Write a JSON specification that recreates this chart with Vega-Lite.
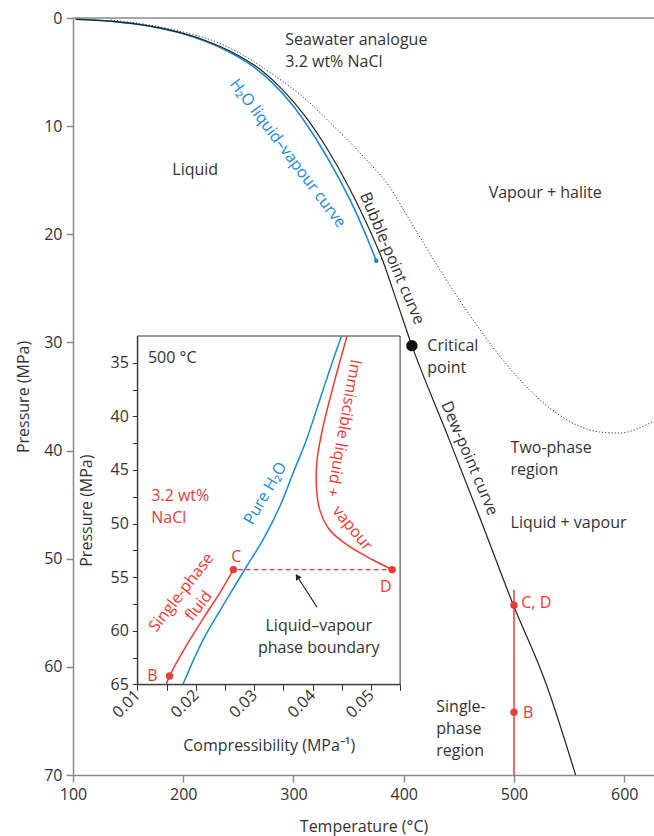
{
  "$schema": "https://vega.github.io/schema/vega-lite/v6.json",
  "width": 581,
  "height": 757,
  "autosize": {"type": "none"},
  "padding": {"left": 73, "top": 18, "right": 0, "bottom": 61},
  "background": "white",
  "config": {
    "view": {"stroke": null},
    "font": "Open Sans",
    "text": {"font": "Open Sans", "fontSize": 16, "color": "#333333"},
    "axis": {"labelFont": "Open Sans", "titleFont": "Open Sans", "labelColor": "#333333", "titleColor": "#333333", "titleFontWeight": "normal", "grid": false, "labelFontSize": 16, "titleFontSize": 16, "labelFlush": false, "labelOverlap": false}
  },
  "datasets": {
    "curves": [
      {"series": "water", "T": 102.4, "P": 0.12}, {"series": "water", "T": 120, "P": 0.19}, {"series": "water", "T": 140, "P": 0.36}, {"series": "water", "T": 160, "P": 0.6}, {"series": "water", "T": 180, "P": 0.96}, {"series": "water", "T": 200, "P": 1.45}, {"series": "water", "T": 220, "P": 2.15}, {"series": "water", "T": 240, "P": 3.05}, {"series": "water", "T": 260, "P": 4.25}, {"series": "water", "T": 280, "P": 5.9}, {"series": "water", "T": 300, "P": 8.15}, {"series": "water", "T": 320, "P": 11.1}, {"series": "water", "T": 340, "P": 14.6}, {"series": "water", "T": 355, "P": 17.6}, {"series": "water", "T": 365, "P": 19.9}, {"series": "water", "T": 375.1, "P": 22.45},
      {"series": "seawater", "T": 102.4, "P": 0.12}, {"series": "seawater", "T": 130, "P": 0.26}, {"series": "seawater", "T": 160, "P": 0.59}, {"series": "seawater", "T": 190, "P": 1.17}, {"series": "seawater", "T": 220, "P": 2.08}, {"series": "seawater", "T": 250, "P": 3.46}, {"series": "seawater", "T": 270, "P": 4.77}, {"series": "seawater", "T": 290, "P": 6.62}, {"series": "seawater", "T": 310, "P": 9.0}, {"series": "seawater", "T": 330, "P": 12.0}, {"series": "seawater", "T": 350, "P": 15.6}, {"series": "seawater", "T": 365, "P": 18.7}, {"series": "seawater", "T": 381, "P": 22.45}, {"series": "seawater", "T": 394, "P": 26.3}, {"series": "seawater", "T": 407.4, "P": 30.3}, {"series": "seawater", "T": 438.9, "P": 38.38}, {"series": "seawater", "T": 468.8, "P": 46.14}, {"series": "seawater", "T": 498.7, "P": 54.1}, {"series": "seawater", "T": 529.6, "P": 61.7}, {"series": "seawater", "T": 555.9, "P": 70.0},
      {"series": "halite", "T": 134.1, "P": 0.18}, {"series": "halite", "T": 169.5, "P": 0.65}, {"series": "halite", "T": 199.4, "P": 1.29}, {"series": "halite", "T": 230.2, "P": 2.22}, {"series": "halite", "T": 260.2, "P": 3.79}, {"series": "halite", "T": 284.7, "P": 5.46}, {"series": "halite", "T": 305.5, "P": 7.03}, {"series": "halite", "T": 335.4, "P": 9.9}, {"series": "halite", "T": 366.3, "P": 13.13}, {"series": "halite", "T": 387.2, "P": 15.63}, {"series": "halite", "T": 405.3, "P": 18.68}, {"series": "halite", "T": 435.2, "P": 23.67}, {"series": "halite", "T": 466.1, "P": 28.39}, {"series": "halite", "T": 496.0, "P": 32.37}, {"series": "halite", "T": 525.9, "P": 35.51}, {"series": "halite", "T": 556.8, "P": 37.64}, {"series": "halite", "T": 577.6, "P": 38.28}, {"series": "halite", "T": 595.8, "P": 38.38}, {"series": "halite", "T": 613.9, "P": 37.91}, {"series": "halite", "T": 626.6, "P": 37.27}
    ],
    "isotherm": [{"T": 500, "P1": 52.9, "P2": 70}],
    "mainpoints": [
      {"name": "C, D", "T": 500, "P": 54.3, "kind": "red"},
      {"name": "B", "T": 500, "P": 64.2, "kind": "red"},
      {"name": "critical point", "T": 407.4, "P": 30.3, "kind": "critical"},
      {"name": "H2O critical point", "T": 375.1, "P": 22.45, "kind": "water"}
    ],
    "labels": [
      {"label": "Seawater analogue\n3.2 wt% NaCl", "T": 292.6, "P": 2.03},
      {"label": "Liquid", "T": 190.1, "P": 14.06},
      {"label": "Vapour + halite", "T": 477.0, "P": 16.21},
      {"label": "Critical\npoint", "T": 421.4, "P": 30.3},
      {"label": "Two-phase\nregion", "T": 496.9, "P": 39.79},
      {"label": "Liquid + vapour", "T": 496.9, "P": 46.67},
      {"label": "Single-\nphase\nregion", "T": 429.5, "P": 63.69}
    ],
    "redlabels": [
      {"label": "C, D", "T": 506.6, "P": 54.07},
      {"label": "B", "T": 508.1, "P": 64.24}
    ],
    "curvelabels": [
      {"label": "H₂O liquid–vapour curve", "T": 294.9, "P": 12.51},
      {"label": "Bubble-point curve", "T": 389.4, "P": 22.22},
      {"label": "Dew-point curve", "T": 459.7, "P": 40.72}
    ],
    "insetcurves": [
      {"series": "pure", "C": 0.01782, "P": 65}, {"series": "pure", "C": 0.02124, "P": 60.87}, {"series": "pure", "C": 0.02525, "P": 57.13}, {"series": "pure", "C": 0.02868, "P": 54.03}, {"series": "pure", "C": 0.03152, "P": 51.53}, {"series": "pure", "C": 0.03438, "P": 48.43}, {"series": "pure", "C": 0.03666, "P": 45.31}, {"series": "pure", "C": 0.03895, "P": 42.2}, {"series": "pure", "C": 0.04124, "P": 38.47}, {"series": "pure", "C": 0.04352, "P": 34.74}, {"series": "pure", "C": 0.04496, "P": 32.5},
      {"series": "single", "C": 0.01497, "P": 65}, {"series": "single", "C": 0.01553, "P": 64.22}, {"series": "single", "C": 0.0184, "P": 61.4}, {"series": "single", "C": 0.02124, "P": 58.9}, {"series": "single", "C": 0.0241, "P": 56.5}, {"series": "single", "C": 0.02645, "P": 54.3},
      {"series": "immiscible", "C": 0.04592, "P": 32.5}, {"series": "immiscible", "C": 0.04352, "P": 37.23}, {"series": "immiscible", "C": 0.04181, "P": 40.96}, {"series": "immiscible", "C": 0.04078, "P": 44.07}, {"series": "immiscible", "C": 0.04067, "P": 46.56}, {"series": "immiscible", "C": 0.04124, "P": 48.7}, {"series": "immiscible", "C": 0.04295, "P": 50.6}, {"series": "immiscible", "C": 0.04638, "P": 52.16}, {"series": "immiscible", "C": 0.05037, "P": 53.4}, {"series": "immiscible", "C": 0.05363, "P": 54.3}
    ],
    "insetdash": [{"C1": 0.0272, "C2": 0.05363, "P": 54.3}],
    "insetpoints": [
      {"name": "B", "C": 0.01553, "P": 64.22},
      {"name": "C", "C": 0.02645, "P": 54.3},
      {"name": "D", "C": 0.05363, "P": 54.3}
    ],
    "arrow": [{"C1": 0.04077, "P1": 57.81, "C2": 0.0374, "P2": 54.94}],
    "insetdarkleft": [{"label": "500 °C", "C": 0.01182, "P": 34.55}],
    "insetredleft": [{"label": "3.2 wt%\nNaCl", "C": 0.0124, "P": 47.43}],
    "insetdarkcenter": [{"label": "Liquid–vapour\nphase boundary", "C": 0.04107, "P": 59.56}],
    "insetredcenter": [
      {"label": "C", "C": 0.02696, "P": 53.15},
      {"label": "D", "C": 0.05255, "P": 55.89},
      {"label": "B", "C": 0.01257, "P": 64.22}
    ],
    "insetrotated": [
      {"label": "Pure H₂O", "C": 0.03195, "P": 47.18},
      {"label": "Single-phase\nfluid", "C": 0.01754, "P": 56.43},
      {"label": "Immiscible liquid +", "C": 0.04535, "P": 41.11},
      {"label": "vapour", "C": 0.04684, "P": 50.44}
    ]
  },
  "layer": [
    {
      "layer": [
        {
          "data": {"values": [{}]},
          "mark": {"type": "rule", "color": "#8a8a8a", "strokeWidth": 1.5},
          "encoding": {
            "x": {"datum": 100, "type": "quantitative", "scale": {"domain": [100, 627], "nice": false, "zero": false}},
            "x2": {"datum": 627},
            "y": {"datum": 0, "type": "quantitative", "scale": {"domain": [0, 70], "reverse": true, "nice": false, "zero": false}}
          }
        },
        {
          "data": {"name": "curves"},
          "transform": [{"filter": {"field": "series", "equal": "halite"}}],
          "mark": {"type": "line", "color": "#333333", "strokeWidth": 1, "strokeDash": [1.2, 2], "interpolate": "monotone"},
          "encoding": {
            "x": {"field": "T", "type": "quantitative", "scale": {"domain": [100, 627], "nice": false, "zero": false},
              "axis": {"values": [100, 200, 300, 400, 500, 600], "title": "Temperature (°C)", "domainColor": "#8a8a8a", "domainWidth": 1.5, "tickColor": "#8a8a8a", "tickWidth": 1.5, "tickSize": 7, "labelPadding": 4, "titlePadding": 16}},
            "y": {"field": "P", "type": "quantitative", "scale": {"domain": [0, 70], "reverse": true, "nice": false, "zero": false},
              "axis": {"values": [0, 10, 20, 30, 40, 50, 60, 70], "title": "Pressure (MPa)", "domainColor": "#8a8a8a", "domainWidth": 1.5, "tickColor": "#8a8a8a", "tickWidth": 1.5, "tickSize": 7, "labelPadding": 4, "titlePadding": 12}}
          }
        },
        {
          "data": {"name": "curves"},
          "transform": [{"filter": {"field": "series", "equal": "water"}}],
          "mark": {"type": "line", "color": "#1b8ad3", "strokeWidth": 1.6, "interpolate": "monotone"},
          "encoding": {"x": {"field": "T", "type": "quantitative"}, "y": {"field": "P", "type": "quantitative"}}
        },
        {
          "data": {"name": "curves"},
          "transform": [{"filter": {"field": "series", "equal": "seawater"}}],
          "mark": {"type": "line", "color": "#222222", "strokeWidth": 1.2, "interpolate": "monotone"},
          "encoding": {"x": {"field": "T", "type": "quantitative"}, "y": {"field": "P", "type": "quantitative"}}
        },
        {
          "data": {"name": "isotherm"},
          "mark": {"type": "rule", "color": "#ec3b33", "strokeWidth": 1.5},
          "encoding": {"x": {"field": "T", "type": "quantitative"}, "y": {"field": "P1", "type": "quantitative"}, "y2": {"field": "P2"}}
        },
        {
          "data": {"name": "mainpoints"},
          "transform": [{"filter": {"field": "kind", "equal": "red"}}],
          "mark": {"type": "point", "filled": true, "color": "#ec3b33", "size": 55, "opacity": 1},
          "encoding": {"x": {"field": "T", "type": "quantitative"}, "y": {"field": "P", "type": "quantitative"}}
        },
        {
          "data": {"name": "mainpoints"},
          "transform": [{"filter": {"field": "kind", "equal": "critical"}}],
          "mark": {"type": "point", "filled": true, "color": "#111111", "size": 130, "opacity": 1},
          "encoding": {"x": {"field": "T", "type": "quantitative"}, "y": {"field": "P", "type": "quantitative"}}
        },
        {
          "data": {"name": "mainpoints"},
          "transform": [{"filter": {"field": "kind", "equal": "water"}}],
          "mark": {"type": "point", "filled": true, "color": "#1b8ad3", "size": 22, "opacity": 1},
          "encoding": {"x": {"field": "T", "type": "quantitative"}, "y": {"field": "P", "type": "quantitative"}}
        },
        {
          "data": {"name": "labels"},
          "mark": {"type": "text", "align": "left", "baseline": "middle", "lineBreak": "\n", "lineHeight": 22, "color": "#333333"},
          "encoding": {"x": {"field": "T", "type": "quantitative"}, "y": {"field": "P", "type": "quantitative"}, "text": {"field": "label"}}
        },
        {
          "data": {"name": "redlabels"},
          "mark": {"type": "text", "align": "left", "baseline": "middle", "color": "#ec3b33"},
          "encoding": {"x": {"field": "T", "type": "quantitative"}, "y": {"field": "P", "type": "quantitative"}, "text": {"field": "label"}}
        },
        {
          "data": {"name": "curvelabels"},
          "transform": [{"filter": {"field": "label", "equal": "H₂O liquid–vapour curve"}}],
          "mark": {"type": "text", "align": "center", "baseline": "middle", "angle": 53, "color": "#1b8ad3"},
          "encoding": {"x": {"field": "T", "type": "quantitative"}, "y": {"field": "P", "type": "quantitative"}, "text": {"field": "label"}}
        },
        {
          "data": {"name": "curvelabels"},
          "transform": [{"filter": {"field": "label", "equal": "Bubble-point curve"}}],
          "mark": {"type": "text", "align": "center", "baseline": "middle", "angle": 67, "color": "#333333"},
          "encoding": {"x": {"field": "T", "type": "quantitative"}, "y": {"field": "P", "type": "quantitative"}, "text": {"field": "label"}}
        },
        {
          "data": {"name": "curvelabels"},
          "transform": [{"filter": {"field": "label", "equal": "Dew-point curve"}}],
          "mark": {"type": "text", "align": "center", "baseline": "middle", "angle": 67, "color": "#333333"},
          "encoding": {"x": {"field": "T", "type": "quantitative"}, "y": {"field": "P", "type": "quantitative"}, "text": {"field": "label"}}
        }
      ]
    },
    {
      "layer": [
        {
          "data": {"values": [{}]},
          "mark": {"type": "rect", "fill": "white", "stroke": "#333333", "strokeWidth": 1},
          "encoding": {
            "x": {"datum": 0.01, "type": "quantitative", "scale": {"domain": [0.01, 0.055], "range": [64.3, 327.1], "nice": false, "zero": false}},
            "x2": {"datum": 0.055},
            "y": {"datum": 32.5, "type": "quantitative", "scale": {"domain": [32.5, 65], "range": [318, 666.3], "nice": false, "zero": false}},
            "y2": {"datum": 65}
          }
        },
        {
          "data": {"name": "insetcurves"},
          "mark": {"type": "line", "strokeWidth": 1.5, "interpolate": "catmull-rom"},
          "encoding": {
            "x": {"field": "C", "type": "quantitative", "scale": {"domain": [0.01, 0.055], "range": [64.3, 327.1], "nice": false, "zero": false},
              "axis": {"orient": "bottom", "offset": -90.7, "zindex": 1, "values": [0.01, 0.015, 0.02, 0.025, 0.03, 0.035, 0.04, 0.045, 0.05, 0.055],
                "labelExpr": "round(datum.value * 1000) % 10 === 0 ? format(datum.value, '.2f') : ''",
                "labelAngle": -45, "labelAlign": "right", "labelBaseline": "middle", "labelPadding": 2,
                "title": "Compressibility (MPa⁻¹)", "titlePadding": 17, "domainColor": "#333333", "tickColor": "#333333", "tickSize": 6}},
            "y": {"field": "P", "type": "quantitative", "scale": {"domain": [32.5, 65], "range": [318, 666.3], "nice": false, "zero": false},
              "axis": {"orient": "left", "offset": -64.3, "zindex": 1, "values": [35, 37.5, 40, 42.5, 45, 47.5, 50, 52.5, 55, 57.5, 60, 62.5, 65],
                "labelExpr": "datum.value % 5 === 0 ? format(datum.value, 'd') : ''",
                "labelPadding": 4, "title": "Pressure (MPa)", "titlePadding": 16, "domainColor": "#333333", "tickColor": "#333333", "tickSize": 5}},
            "order": {"field": "P", "type": "quantitative"},
            "color": {"field": "series", "type": "nominal", "scale": {"domain": ["pure", "single", "immiscible"], "range": ["#1b8ad3", "#ec3b33", "#ec3b33"]}, "legend": null}
          }
        },
        {
          "data": {"name": "insetdash"},
          "mark": {"type": "rule", "color": "#ec3b33", "strokeWidth": 1.2, "strokeDash": [5, 3]},
          "encoding": {"x": {"field": "C1", "type": "quantitative"}, "x2": {"field": "C2"}, "y": {"field": "P", "type": "quantitative"}}
        },
        {
          "data": {"name": "arrow"},
          "mark": {"type": "rule", "color": "#222222", "strokeWidth": 1.2},
          "encoding": {"x": {"field": "C1", "type": "quantitative"}, "x2": {"field": "C2"}, "y": {"field": "P1", "type": "quantitative"}, "y2": {"field": "P2"}}
        },
        {
          "data": {"name": "arrow"},
          "mark": {"type": "point", "shape": "triangle-up", "filled": true, "color": "#222222", "size": 45, "angle": -32.6, "opacity": 1},
          "encoding": {"x": {"field": "C2", "type": "quantitative"}, "y": {"field": "P2", "type": "quantitative"}}
        },
        {
          "data": {"name": "insetpoints"},
          "mark": {"type": "point", "filled": true, "color": "#ec3b33", "size": 55, "opacity": 1},
          "encoding": {"x": {"field": "C", "type": "quantitative"}, "y": {"field": "P", "type": "quantitative"}}
        },
        {
          "data": {"name": "insetdarkleft"},
          "mark": {"type": "text", "align": "left", "baseline": "middle", "color": "#333333"},
          "encoding": {"x": {"field": "C", "type": "quantitative"}, "y": {"field": "P", "type": "quantitative"}, "text": {"field": "label"}}
        },
        {
          "data": {"name": "insetredleft"},
          "mark": {"type": "text", "align": "left", "baseline": "middle", "lineBreak": "\n", "lineHeight": 22, "color": "#ec3b33"},
          "encoding": {"x": {"field": "C", "type": "quantitative"}, "y": {"field": "P", "type": "quantitative"}, "text": {"field": "label"}}
        },
        {
          "data": {"name": "insetdarkcenter"},
          "mark": {"type": "text", "align": "center", "baseline": "middle", "lineBreak": "\n", "lineHeight": 22, "color": "#333333"},
          "encoding": {"x": {"field": "C", "type": "quantitative"}, "y": {"field": "P", "type": "quantitative"}, "text": {"field": "label"}}
        },
        {
          "data": {"name": "insetredcenter"},
          "mark": {"type": "text", "align": "center", "baseline": "middle", "color": "#ec3b33"},
          "encoding": {"x": {"field": "C", "type": "quantitative"}, "y": {"field": "P", "type": "quantitative"}, "text": {"field": "label"}}
        },
        {
          "data": {"name": "insetrotated"},
          "transform": [{"filter": {"field": "label", "equal": "Pure H₂O"}}],
          "mark": {"type": "text", "align": "center", "baseline": "middle", "angle": -60, "color": "#1b8ad3"},
          "encoding": {"x": {"field": "C", "type": "quantitative"}, "y": {"field": "P", "type": "quantitative"}, "text": {"field": "label"}}
        },
        {
          "data": {"name": "insetrotated"},
          "transform": [{"filter": {"field": "label", "equal": "Single-phase\nfluid"}}],
          "mark": {"type": "text", "align": "center", "baseline": "middle", "angle": -52, "color": "#ec3b33", "lineBreak": "\n", "lineHeight": 22},
          "encoding": {"x": {"field": "C", "type": "quantitative"}, "y": {"field": "P", "type": "quantitative"}, "text": {"field": "label"}}
        },
        {
          "data": {"name": "insetrotated"},
          "transform": [{"filter": {"field": "label", "equal": "Immiscible liquid +"}}],
          "mark": {"type": "text", "align": "center", "baseline": "middle", "angle": 100, "color": "#ec3b33"},
          "encoding": {"x": {"field": "C", "type": "quantitative"}, "y": {"field": "P", "type": "quantitative"}, "text": {"field": "label"}}
        },
        {
          "data": {"name": "insetrotated"},
          "transform": [{"filter": {"field": "label", "equal": "vapour"}}],
          "mark": {"type": "text", "align": "center", "baseline": "middle", "angle": 50, "color": "#ec3b33"},
          "encoding": {"x": {"field": "C", "type": "quantitative"}, "y": {"field": "P", "type": "quantitative"}, "text": {"field": "label"}}
        }
      ]
    }
  ],
  "resolve": {"scale": {"x": "independent", "y": "independent"}, "axis": {"x": "independent", "y": "independent"}}
}
